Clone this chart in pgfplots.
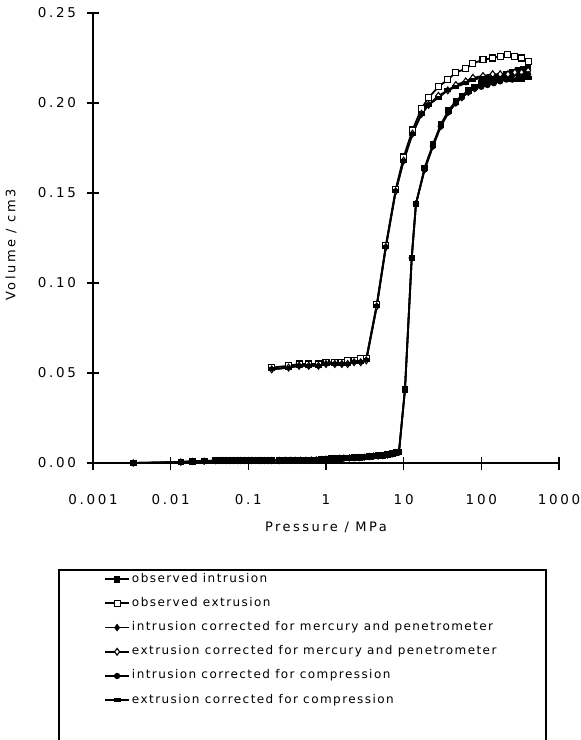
\documentclass[border=0pt]{standalone}
\usepackage{pgfplots}
\pgfplotsset{compat=1.18}
\usepackage{pgfplotstable}
\usepackage{fontspec}
\setmainfont{DejaVu Sans}[LetterSpace=12]
\newfontfamily\tickfont{DejaVu Sans}[LetterSpace=20]
\newfontfamily\axlabfont{DejaVu Sans}[LetterSpace=19]

\pgfplotstableread{
P V
0.0033 0.0000
0.0135 0.0006
0.019 0.0010
0.027 0.0011
0.038 0.0014
0.042 0.0015
0.047 0.0015
0.052 0.0015
0.058 0.0015
0.065 0.0015
0.072 0.0015
0.080 0.0015
0.089 0.0015
0.10 0.0015
0.11 0.0015
0.125 0.0015
0.14 0.0015
0.16 0.0015
0.18 0.0015
0.20 0.0015
0.25 0.0015
0.30 0.0016
0.35 0.0016
0.40 0.0016
0.47 0.0016
0.55 0.0016
0.65 0.0017
0.75 0.0018
0.88 0.0020
1.0 0.0022
1.15 0.0025
1.3 0.0026
1.5 0.0027
1.7 0.0028
2.0 0.0029
2.3 0.0030
2.7 0.0031
3.1 0.0033
3.6 0.0038
4.1 0.0040
4.7 0.0041
5.4 0.0043
6.2 0.0047
7.1 0.0052
7.9 0.0058
8.7 0.0062
10.4 0.041
12.7 0.114
14.4 0.144
18.6 0.164
23.8 0.177
30 0.188
38 0.196
47 0.201
56 0.204
68 0.207
82 0.209
100 0.211
120 0.213
145 0.214
175 0.215
210 0.216
250 0.217
300 0.218
350 0.219
400 0.221
}\obsintr

\pgfplotstableread{
P V
400 0.223
330 0.225
270 0.226
220 0.227
175 0.226
140 0.225
105 0.224
78 0.222
63 0.219
47 0.217
37 0.213
28 0.209
21 0.203
17 0.197
13 0.185
10 0.170
7.9 0.152
5.9 0.121
4.5 0.088
3.3 0.058
2.8 0.058
2.3 0.057
1.9 0.057
1.6 0.056
1.3 0.056
1.0 0.056
0.8 0.055
0.6 0.055
0.45 0.055
0.33 0.054
0.2 0.053
}\obsextr

\pgfplotstableread{
P V
0.0033 0.0000
0.0135 0.0005
0.019 0.0009
0.027 0.0010
0.038 0.0013
0.042 0.0014
0.047 0.0014
0.052 0.0014
0.058 0.0014
0.065 0.0014
0.072 0.0014
0.080 0.0014
0.089 0.0014
0.10 0.0014
0.11 0.0014
0.125 0.0014
0.14 0.0014
0.16 0.0014
0.18 0.0014
0.20 0.0014
0.25 0.0014
0.30 0.0015
0.35 0.0015
0.40 0.0015
0.47 0.0015
0.55 0.0015
0.65 0.0016
0.75 0.0017
0.88 0.0019
1.0 0.0021
1.15 0.0024
1.3 0.0025
1.5 0.0026
1.7 0.0027
2.0 0.0028
2.3 0.0029
2.7 0.0030
3.1 0.0032
3.6 0.0036
4.1 0.0038
4.7 0.0039
5.4 0.0041
6.2 0.0045
7.1 0.0050
7.9 0.0056
8.7 0.0060
10.4 0.041
12.7 0.114
14.4 0.144
18.6 0.163
23.8 0.176
30 0.187
38 0.195
47 0.200
56 0.203
68 0.206
82 0.208
100 0.210
120 0.211
145 0.212
175 0.213
210 0.214
250 0.215
300 0.216
350 0.217
400 0.219
}\corintr

\pgfplotstableread{
P V
400 0.218
330 0.217
270 0.217
220 0.216
175 0.216
140 0.216
105 0.215
78 0.214
63 0.212
47 0.210
37 0.207
28 0.204
21 0.199
17 0.194
13 0.183
10 0.168
7.9 0.151
5.9 0.120
4.5 0.087
3.3 0.057
2.8 0.056
2.3 0.056
1.9 0.055
1.6 0.055
1.3 0.055
1.0 0.055
0.8 0.054
0.6 0.054
0.45 0.054
0.33 0.053
0.2 0.052
}\corextr

\pgfplotstableread{
P V
0.0033 0.0000
0.0135 0.0005
0.019 0.0009
0.027 0.0010
0.038 0.0013
0.047 0.0014
0.058 0.0014
0.072 0.0014
0.089 0.0014
0.11 0.0014
0.14 0.0014
0.18 0.0014
0.25 0.0014
0.35 0.0015
0.47 0.0015
0.65 0.0016
0.88 0.0019
1.15 0.0024
1.5 0.0026
2.0 0.0028
2.7 0.0030
3.6 0.0036
4.7 0.0039
6.2 0.0045
7.9 0.0056
8.7 0.0060
10.4 0.041
12.7 0.114
14.4 0.144
18.6 0.163
23.8 0.176
30 0.187
38 0.195
47 0.200
56 0.203
68 0.206
82 0.208
100 0.209
120 0.210
145 0.211
175 0.212
210 0.213
250 0.213
300 0.214
350 0.215
400 0.216
}\cmpintr

\pgfplotstableread{
P V
400 0.214
330 0.213
270 0.213
220 0.213
175 0.214
140 0.214
105 0.214
78 0.213
63 0.211
47 0.209
37 0.207
28 0.203
21 0.199
17 0.194
13 0.183
10 0.168
7.9 0.151
5.9 0.120
4.5 0.087
3.3 0.057
2.8 0.056
2.3 0.056
1.9 0.055
1.6 0.055
1.3 0.055
1.0 0.055
0.8 0.054
0.6 0.054
0.45 0.054
0.33 0.053
0.2 0.052
}\cmpextr

\begin{document}
\begin{tikzpicture}[x=1pt,y=1pt]
\useasboundingbox (0,0) rectangle (581,740);
\begin{axis}[
  at={(93pt,277pt)}, anchor=south west,
  scale only axis, width=466pt, height=450pt,
  xmode=log, xmin=0.001, xmax=1000, ymin=0, ymax=0.25,
  axis x line*=bottom, axis y line*=left,
  axis line style={line width=1.6pt},
  tick align=center, major tick length=13pt,
  tick style={line width=1.4pt, black},
  minor tick num=0, xminorticks=false,
  xtick={0.001,0.01,0.1,1,10,100,1000},
  xticklabels={0.001,0.01,0.1,1,10,100,1000},
  ytick={0,0.05,0.1,0.15,0.2,0.25},
  yticklabels={0.00,0.05,0.10,0.15,0.20,0.25},
  ticklabel style={font=\tickfont\fontsize{13.5}{15}\selectfont},
  xticklabel style={anchor=center, yshift=-30pt},
  yticklabel style={anchor=east, xshift=-7pt},
  xlabel={Pressure / MPa}, ylabel={Volume / cm3},
  every axis x label/.style={at={(axis description cs:0.5,-0.144)}, anchor=center,
    font=\axlabfont\fontsize{13}{15}\selectfont},
  every axis y label/.style={at={(axis description cs:-0.176,0.485)}, anchor=center, rotate=90,
    font=\axlabfont\fontsize{13}{15}\selectfont},
  clip=false,
  every axis plot/.append style={line width=1.8pt, black},
  legend image code/.code={\draw[mark repeat=2,mark phase=2,#1] plot coordinates {(0pt,0pt) (12pt,0pt) (24pt,0pt)};},
  legend cell align=left,
  legend style={at={(axis description cs:0.0236,-0.2444)}, anchor=north west,
    draw=none, fill=none, inner sep=0pt, row sep=12.2pt, column sep=1pt,
    font=\fontsize{12}{14}\selectfont,
    nodes={inner sep=1pt, text height=8pt, text depth=2pt}},
]
\addplot[mark=square*, mark size=2.8pt, mark options={solid, fill=black, line width=0.8pt}] table {\obsintr};
\addlegendentry{observed intrusion}
\addplot[mark=square*, mark size=3pt, mark options={solid, fill=white, line width=1.1pt}] table {\obsextr};
\addlegendentry{observed extrusion}
\addplot[mark=diamond*, mark size=3.4pt, mark options={solid, fill=black, line width=0.6pt}] table {\corintr};
\addlegendentry{intrusion corrected for mercury and penetrometer}
\addplot[mark=diamond*, mark size=3.4pt, mark options={solid, fill=white, line width=1.1pt}] table {\corextr};
\addlegendentry{extrusion corrected for mercury and penetrometer}
\addplot[mark=*, mark size=2.2pt, mark options={solid, fill=black}] table {\cmpintr};
\addlegendentry{intrusion corrected for compression}
\addplot[mark=square*, mark size=2.6pt, mark options={solid, fill=black, yscale=0.45}] table {\cmpextr};
\addlegendentry{extrusion corrected for compression}
\end{axis}
\draw[line width=1.4pt] (59,170) rectangle (546,-20);
\end{tikzpicture}
\end{document}
